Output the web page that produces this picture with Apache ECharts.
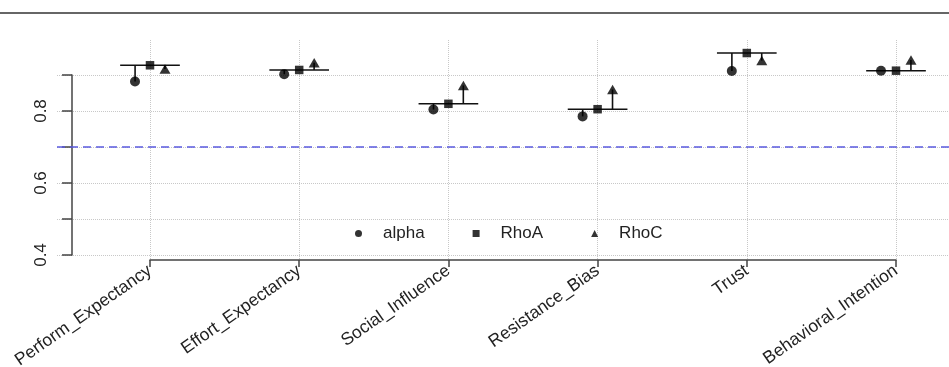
<!DOCTYPE html>
<html>
<head>
<meta charset="utf-8">
<script src="https://cdn.jsdelivr.net/npm/echarts@6/dist/echarts.min.js"></script>
<style>
  html, body { margin: 0; padding: 0; background: #fff; }
  #chart { width: 949px; height: 367px; }
</style>
</head>
<body>
<div id="chart"></div>
<script>
// construct reliability values
var categories = ['Perform_Expectancy', 'Effort_Expectancy', 'Social_Influence', 'Resistance_Bias', 'Trust', 'Behavioral_Intention'];
var alpha = [0.882, 0.902, 0.804, 0.785, 0.911, 0.912];
var rhoA = [0.927, 0.914, 0.820, 0.805, 0.961, 0.912];
var rhoC = [0.917, 0.934, 0.871, 0.860, 0.940, 0.942];
var yTickLabels = ['0.4', '0.6', '0.8'];
var threshold = 0.7;

var font = 'Liberation Sans, Arial, sans-serif';
var axisColor = '#444';
var gridLine = { show: true, lineStyle: { color: '#c8c8c8', type: 'dotted', width: 1 } };

// rows for the segment series: index, alpha, rhoA, rhoC
var segRows = categories.map(function (c, i) {
  return [i, alpha[i], rhoA[i], rhoC[i]];
});

var chart = echarts.init(document.getElementById('chart'));

chart.setOption({
  animation: false,
  textStyle: { fontFamily: font },
  graphic: [
    {
      type: 'line',
      shape: { x1: 0, y1: 13, x2: 949, y2: 13 },
      style: { stroke: '#666', lineWidth: 2 }
    }
  ],
  legend: {
    data: ['alpha', 'RhoA', 'RhoC'],
    left: 350,
    top: 220,
    itemWidth: 7,
    itemHeight: 7,
    itemGap: 48,
    textStyle: { fontSize: 17, color: '#222', padding: [0, 0, 0, 16] }
  },
  grid: [
    // main axes
    { left: 150, right: 53, top: 75, bottom: 112, outerBoundsMode: 'none', containLabel: false },
    // vertical grid lines
    { left: 150, right: 53, top: 40, bottom: 107, outerBoundsMode: 'none', containLabel: false },
    // horizontal grid lines + threshold
    { left: 57, right: 0, top: 75, bottom: 112, outerBoundsMode: 'none', containLabel: false }
  ],
  xAxis: [
    {
      gridIndex: 0,
      type: 'category',
      data: categories,
      boundaryGap: false,
      offset: 5,
      axisLine: { lineStyle: { color: axisColor, width: 1.5 } },
      axisTick: { length: 7, lineStyle: { color: axisColor, width: 1.5 } },
      axisLabel: { rotate: 35, fontSize: 17.5, color: '#222', margin: 9, interval: 0 },
      splitLine: { show: false }
    },
    {
      gridIndex: 1,
      type: 'category',
      data: categories,
      boundaryGap: false,
      axisLine: { show: false },
      axisTick: { show: false },
      axisLabel: { show: false },
      splitLine: gridLine
    },
    { gridIndex: 2, type: 'value', min: 0, max: 1, show: false }
  ],
  yAxis: [
    {
      gridIndex: 0,
      type: 'value',
      min: 0.4,
      max: 0.9,
      interval: 0.1,
      offset: 78,
      axisLine: { show: true, lineStyle: { color: axisColor, width: 1.5 } },
      axisTick: { show: true, length: 10, lineStyle: { color: axisColor, width: 1.5 } },
      axisLabel: {
        rotate: 90,
        fontSize: 17,
        color: '#222',
        margin: 22,
        formatter: function (v) {
          var s = v.toFixed(1);
          return yTickLabels.indexOf(s) >= 0 ? s : '';
        }
      },
      splitLine: { show: false }
    },
    { gridIndex: 1, type: 'value', min: 0, max: 1, show: false },
    {
      gridIndex: 2,
      type: 'value',
      min: 0.4,
      max: 0.9,
      interval: 0.1,
      axisLine: { show: false },
      axisTick: { show: false },
      axisLabel: { show: false },
      splitLine: gridLine
    }
  ],
  series: [
    {
      name: 'threshold',
      type: 'line',
      xAxisIndex: 2,
      yAxisIndex: 2,
      data: [],
      silent: true,
      markLine: {
        symbol: 'none',
        silent: true,
        label: { show: false },
        lineStyle: { color: '#5b5be0', type: [8, 5], width: 1.5 },
        data: [{ yAxis: threshold }]
      }
    },
    {
      name: 'segments',
      type: 'custom',
      xAxisIndex: 0,
      yAxisIndex: 0,
      clip: false,
      z: 2,
      data: segRows,
      encode: { x: 0, y: 2 },
      renderItem: function (params, api) {
        var i = api.value(0);
        var bw = api.size([1, 0])[0];
        var mid = api.coord([i, api.value(2)]);
        var pA = api.coord([i, api.value(1)]);
        var pC = api.coord([i, api.value(3)]);
        var off = bw * 0.1;
        var style = { stroke: '#111', lineWidth: 1.6 };
        return {
          type: 'group',
          children: [
            { type: 'line', shape: { x1: mid[0] - 2 * off, y1: mid[1], x2: mid[0] + 2 * off, y2: mid[1] }, style: style },
            { type: 'line', shape: { x1: mid[0] - off, y1: mid[1], x2: mid[0] - off, y2: pA[1] }, style: style },
            { type: 'line', shape: { x1: mid[0] + off, y1: mid[1], x2: mid[0] + off, y2: pC[1] }, style: style }
          ]
        };
      }
    },
    {
      name: 'alpha',
      type: 'scatter',
      data: alpha,
      clip: false,
      z: 3,
      symbol: 'circle',
      symbolSize: 10,
      symbolOffset: [-15, 0],
      itemStyle: { color: '#000' }
    },
    {
      name: 'RhoA',
      type: 'scatter',
      data: rhoA,
      clip: false,
      z: 3,
      symbol: 'rect',
      symbolSize: 8.5,
      itemStyle: { color: '#000' }
    },
    {
      name: 'RhoC',
      type: 'scatter',
      data: rhoC,
      clip: false,
      z: 3,
      symbol: 'triangle',
      symbolSize: [11, 9.5],
      symbolOffset: [15, 0],
      itemStyle: { color: '#000' }
    }
  ]
});
</script>
</body>
</html>
